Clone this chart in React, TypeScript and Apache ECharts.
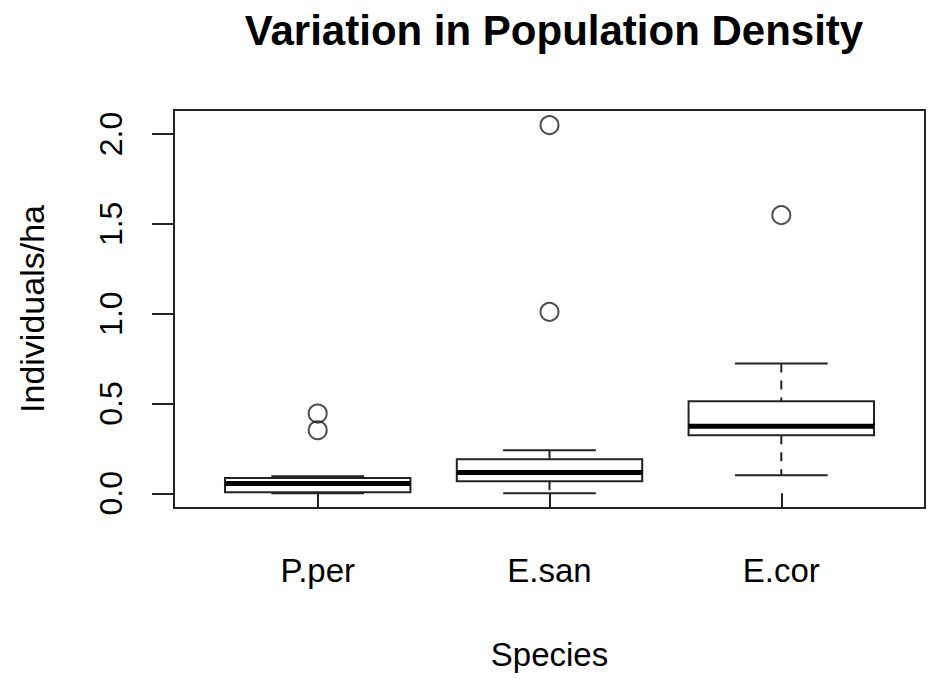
import React, { useEffect, useRef } from "react";
import * as echarts from "echarts";

// Species (x categories, placed at 1, 2, 3 on the value axis)
const species = ["P.per", "E.san", "E.cor"];

// Five-number summaries per species (Individuals/ha)
const whiskerLow = [0.0, 0.0, 0.1];
const quartile1 = [0.005, 0.067, 0.323];
const medians = [0.054, 0.115, 0.373];
const quartile3 = [0.085, 0.189, 0.513];
const whiskerHigh = [0.095, 0.24, 0.722];

// Outlying observations: [species position, value]
const outliers: [number, number][] = [
  [1, 0.444],
  [1, 0.351],
  [2, 1.01],
  [2, 2.05],
  [3, 1.549],
];

const yTicks = [0, 0.5, 1, 1.5, 2];
const xTicks = [1, 2, 3];

const FONT = "'Liberation Sans', Arial, Helvetica, sans-serif";
const INK = "#222";

export default function App() {
  const ref = useRef<HTMLDivElement>(null);

  useEffect(() => {
    if (!ref.current) return;
    const chart = echarts.init(ref.current, undefined, { renderer: "svg" });

    const boxData = species.map((_, i) => [
      i + 1,
      whiskerLow[i],
      quartile1[i],
      medians[i],
      quartile3[i],
      whiskerHigh[i],
    ]);

    chart.setOption({
      animation: false,
      backgroundColor: "#fff",
      textStyle: { fontFamily: FONT, color: "#000" },
      title: {
        text: "Variation in Population Density",
        left: 549,
        textAlign: "center",
        top: 4,
        textStyle: { fontFamily: FONT, fontSize: 42, fontWeight: "bold", color: "#000" },
      },
      grid: {
        left: 174,
        top: 110,
        width: 751,
        height: 398,
        show: true,
        borderColor: INK,
        borderWidth: 2,
        backgroundColor: "transparent",
      },
      xAxis: {
        type: "value",
        min: 0.38,
        max: 3.62,
        splitLine: { show: false },
        axisLine: { show: false },
        axisTick: {
          show: true,
          customValues: xTicks,
          length: 14,
          lineStyle: { color: INK, width: 2 },
        },
        axisLabel: {
          customValues: xTicks,
          formatter: (v: number) => species[Math.round(v) - 1] ?? "",
          fontSize: 33,
          fontFamily: FONT,
          color: "#000",
          margin: 46,
        },
        name: "Species",
        nameLocation: "middle",
        nameGap: 130,
        nameTextStyle: { fontSize: 33, fontFamily: FONT, color: "#000" },
      },
      yAxis: {
        type: "value",
        min: -0.082,
        max: 2.134,
        splitLine: { show: false },
        axisLine: { show: false },
        axisTick: {
          show: true,
          customValues: yTicks,
          length: 22,
          lineStyle: { color: INK, width: 2 },
        },
        axisLabel: {
          customValues: yTicks,
          formatter: (v: number) => v.toFixed(1),
          rotate: 90,
          fontSize: 32,
          fontFamily: FONT,
          color: "#000",
          margin: 47,
        },
        name: "Individuals/ha",
        nameLocation: "middle",
        nameGap: 125,
        nameTextStyle: { fontSize: 34, fontFamily: FONT, color: "#000" },
      },
      series: [
        {
          type: "custom",
          data: boxData,
          encode: { x: 0, y: [1, 2, 3, 4, 5] },
          renderItem: (_params: any, api: any) => {
            const xv = api.value(0);
            const pt = (v: number) => api.coord([xv, v]);
            const half = api.size([0.8, 0])[0] / 2;
            const staple = half / 2;
            const [cx, yMin] = pt(api.value(1));
            const yQ1 = pt(api.value(2))[1];
            const yMed = pt(api.value(3))[1];
            const yQ3 = pt(api.value(4))[1];
            const yMax = pt(api.value(5))[1];
            const solid = { stroke: INK, lineWidth: 2 };
            const dashed = { stroke: INK, lineWidth: 2, lineDash: [9, 8] };
            return {
              type: "group",
              children: [
                { type: "line", shape: { x1: cx, y1: yMax, x2: cx, y2: yQ3 }, style: dashed },
                { type: "line", shape: { x1: cx, y1: yQ1, x2: cx, y2: yMin }, style: dashed },
                { type: "line", shape: { x1: cx - staple, y1: yMax, x2: cx + staple, y2: yMax }, style: solid },
                { type: "line", shape: { x1: cx - staple, y1: yMin, x2: cx + staple, y2: yMin }, style: solid },
                {
                  type: "rect",
                  shape: { x: cx - half, y: yQ3, width: half * 2, height: yQ1 - yQ3 },
                  style: { fill: "#fff", stroke: INK, lineWidth: 2 },
                },
                {
                  type: "line",
                  shape: { x1: cx - half, y1: yMed, x2: cx + half, y2: yMed },
                  style: { stroke: "#000", lineWidth: 5 },
                },
              ],
            };
          },
        },
        {
          type: "scatter",
          data: outliers,
          symbol: "circle",
          symbolSize: 18,
          itemStyle: { color: "rgba(0,0,0,0)", borderColor: INK, borderWidth: 2 },
          z: 3,
        },
      ],
    });

    return () => chart.dispose();
  }, []);

  return (
    <div
      ref={ref}
      style={{ position: "fixed", left: 0, top: 0, width: 931, height: 679, background: "#fff" }}
    />
  );
}
